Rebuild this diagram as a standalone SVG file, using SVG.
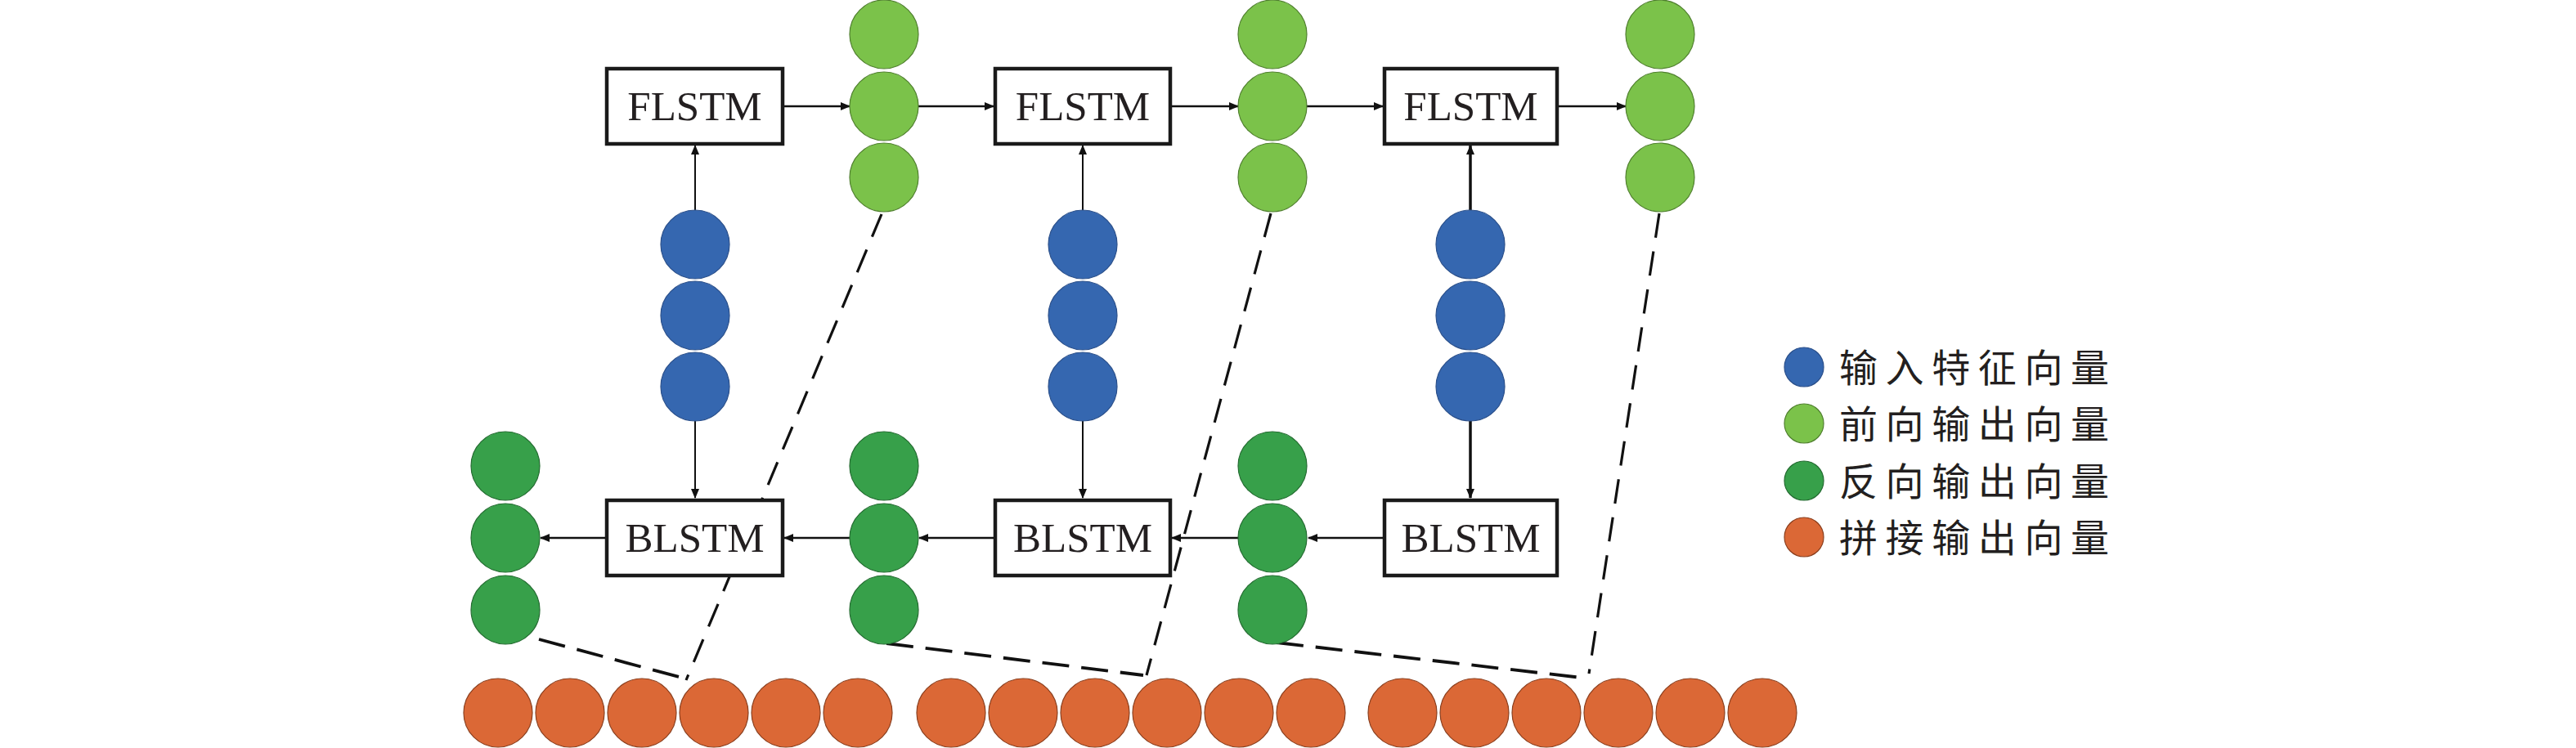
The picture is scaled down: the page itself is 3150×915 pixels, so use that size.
<svg xmlns="http://www.w3.org/2000/svg" width="3150" height="915" viewBox="0 0 3150 915">
<defs>
<style>
.box{fill:#fff;stroke:#1a1a1a;stroke-width:4.5}
.lbl{font-family:"Liberation Serif","Times New Roman",serif;font-size:51px;fill:#231f20;text-anchor:middle}
.leg{font-family:"Noto Sans CJK SC","Noto Sans CJK JP",sans-serif;font-size:47px;letter-spacing:9.6px;fill:#231f20}
.blue{fill:#3567b0;stroke:#2a4f8a;stroke-width:1.2}
.lg{fill:#7bc24a;stroke:#4f7f2e;stroke-width:1.2}
.dg{fill:#37a04a;stroke:#236b30;stroke-width:1.2}
.or{fill:#db6836;stroke:#8a3e1d;stroke-width:1.2}
.ah{stroke:#111;stroke-width:2.7;fill:none}
.av{stroke:#111;stroke-width:2;fill:none}
.av3{stroke:#111;stroke-width:3.5;fill:none}
.dash{stroke:#111;stroke-width:3.2;fill:none;stroke-dasharray:30 17}
.dashh{stroke:#111;stroke-width:3.8;fill:none;stroke-dasharray:33 15}
</style>
<marker id="arr" viewBox="0 0 12 10" refX="11" refY="5" markerWidth="12" markerHeight="10" markerUnits="userSpaceOnUse" orient="auto">
<path d="M0,0 L12,5 L0,10 Z" fill="#111"/>
</marker>
</defs>
<rect width="3150" height="915" fill="#fff"/>
<g id="connectors">
<line class="dash" x1="1078" y1="262" x2="839" y2="832"/>
<line class="dashh" x1="659" y1="782" x2="834" y2="829"/>
<line class="dash" x1="1554" y1="261" x2="1402" y2="826"/>
<line class="dashh" x1="1084" y1="787" x2="1398" y2="826"/>
<line class="dash" x1="2029" y1="261" x2="1943" y2="824"/>
<line class="dashh" x1="1561" y1="786" x2="1934" y2="829"/>
<line class="ah" x1="957" y1="130" x2="1039" y2="130" marker-end="url(#arr)"/>
<line class="ah" x1="1122" y1="130" x2="1215" y2="130" marker-end="url(#arr)"/>
<line class="ah" x1="1431" y1="130" x2="1514" y2="130" marker-end="url(#arr)"/>
<line class="ah" x1="1597" y1="130" x2="1691" y2="130" marker-end="url(#arr)"/>
<line class="ah" x1="1904" y1="130" x2="1988" y2="130" marker-end="url(#arr)"/>
<line class="ah" x1="742" y1="658" x2="661" y2="658" marker-end="url(#arr)"/>
<line class="ah" x1="1040" y1="658" x2="959" y2="658" marker-end="url(#arr)"/>
<line class="ah" x1="1217" y1="658" x2="1124" y2="658" marker-end="url(#arr)"/>
<line class="ah" x1="1515" y1="658" x2="1433" y2="658" marker-end="url(#arr)"/>
<line class="ah" x1="1693" y1="658" x2="1600" y2="658" marker-end="url(#arr)"/>
<line class="av" x1="850" y1="257" x2="850" y2="178" marker-end="url(#arr)"/>
<line class="av" x1="850" y1="515" x2="850" y2="609" marker-end="url(#arr)"/>
<line class="av" x1="1324" y1="257" x2="1324" y2="178" marker-end="url(#arr)"/>
<line class="av" x1="1324" y1="515" x2="1324" y2="609" marker-end="url(#arr)"/>
<line class="av3" x1="1798" y1="257" x2="1798" y2="178" marker-end="url(#arr)"/>
<line class="av3" x1="1798" y1="515" x2="1798" y2="609" marker-end="url(#arr)"/>
</g>
<g id="flstm1"><rect class="box" x="742" y="84" width="215" height="92"/><text class="lbl" x="849.5" y="147">FLSTM</text></g>
<g id="flstm2"><rect class="box" x="1217" y="84" width="214" height="92"/><text class="lbl" x="1324" y="147">FLSTM</text></g>
<g id="flstm3"><rect class="box" x="1693" y="84" width="211" height="92"/><text class="lbl" x="1798.5" y="147">FLSTM</text></g>
<g id="blstm1"><rect class="box" x="742" y="612" width="215" height="92"/><text class="lbl" x="849.5" y="675">BLSTM</text></g>
<g id="blstm2"><rect class="box" x="1217" y="612" width="214" height="92"/><text class="lbl" x="1324" y="675">BLSTM</text></g>
<g id="blstm3"><rect class="box" x="1693" y="612" width="211" height="92"/><text class="lbl" x="1798.5" y="675">BLSTM</text></g>
<g id="input1"><circle class="blue" cx="850" cy="299" r="42"/><circle class="blue" cx="850" cy="386" r="42"/><circle class="blue" cx="850" cy="473" r="42"/></g>
<g id="input2"><circle class="blue" cx="1324" cy="299" r="42"/><circle class="blue" cx="1324" cy="386" r="42"/><circle class="blue" cx="1324" cy="473" r="42"/></g>
<g id="input3"><circle class="blue" cx="1798" cy="299" r="42"/><circle class="blue" cx="1798" cy="386" r="42"/><circle class="blue" cx="1798" cy="473" r="42"/></g>
<g id="fwd1"><circle class="lg" cx="1081" cy="42" r="42"/><circle class="lg" cx="1081" cy="130" r="42"/><circle class="lg" cx="1081" cy="217" r="42"/></g>
<g id="fwd2"><circle class="lg" cx="1556" cy="42" r="42"/><circle class="lg" cx="1556" cy="130" r="42"/><circle class="lg" cx="1556" cy="217" r="42"/></g>
<g id="fwd3"><circle class="lg" cx="2030" cy="42" r="42"/><circle class="lg" cx="2030" cy="130" r="42"/><circle class="lg" cx="2030" cy="217" r="42"/></g>
<g id="bwd1"><circle class="dg" cx="618" cy="570" r="42"/><circle class="dg" cx="618" cy="658" r="42"/><circle class="dg" cx="618" cy="746" r="42"/></g>
<g id="bwd2"><circle class="dg" cx="1081" cy="570" r="42"/><circle class="dg" cx="1081" cy="658" r="42"/><circle class="dg" cx="1081" cy="746" r="42"/></g>
<g id="bwd3"><circle class="dg" cx="1556" cy="570" r="42"/><circle class="dg" cx="1556" cy="658" r="42"/><circle class="dg" cx="1556" cy="746" r="42"/></g>
<g id="concat1"><circle class="or" cx="609" cy="872" r="42"/><circle class="or" cx="697" cy="872" r="42"/><circle class="or" cx="785" cy="872" r="42"/><circle class="or" cx="873" cy="872" r="42"/><circle class="or" cx="961" cy="872" r="42"/><circle class="or" cx="1049" cy="872" r="42"/></g>
<g id="concat2"><circle class="or" cx="1163" cy="872" r="42"/><circle class="or" cx="1251" cy="872" r="42"/><circle class="or" cx="1339" cy="872" r="42"/><circle class="or" cx="1427" cy="872" r="42"/><circle class="or" cx="1515" cy="872" r="42"/><circle class="or" cx="1603" cy="872" r="42"/></g>
<g id="concat3"><circle class="or" cx="1715" cy="872" r="42"/><circle class="or" cx="1803" cy="872" r="42"/><circle class="or" cx="1891" cy="872" r="42"/><circle class="or" cx="1979" cy="872" r="42"/><circle class="or" cx="2067" cy="872" r="42"/><circle class="or" cx="2155" cy="872" r="42"/></g>
<g id="legend">
<circle class="blue" cx="2206" cy="449" r="24"/><text class="leg" x="2249" y="467">输入特征向量</text>
<circle class="lg" cx="2206" cy="518" r="24"/><text class="leg" x="2249" y="536">前向输出向量</text>
<circle class="dg" cx="2206" cy="588" r="24"/><text class="leg" x="2249" y="606">反向输出向量</text>
<circle class="or" cx="2206" cy="657" r="24"/><text class="leg" x="2249" y="675">拼接输出向量</text>
</g>
</svg>
